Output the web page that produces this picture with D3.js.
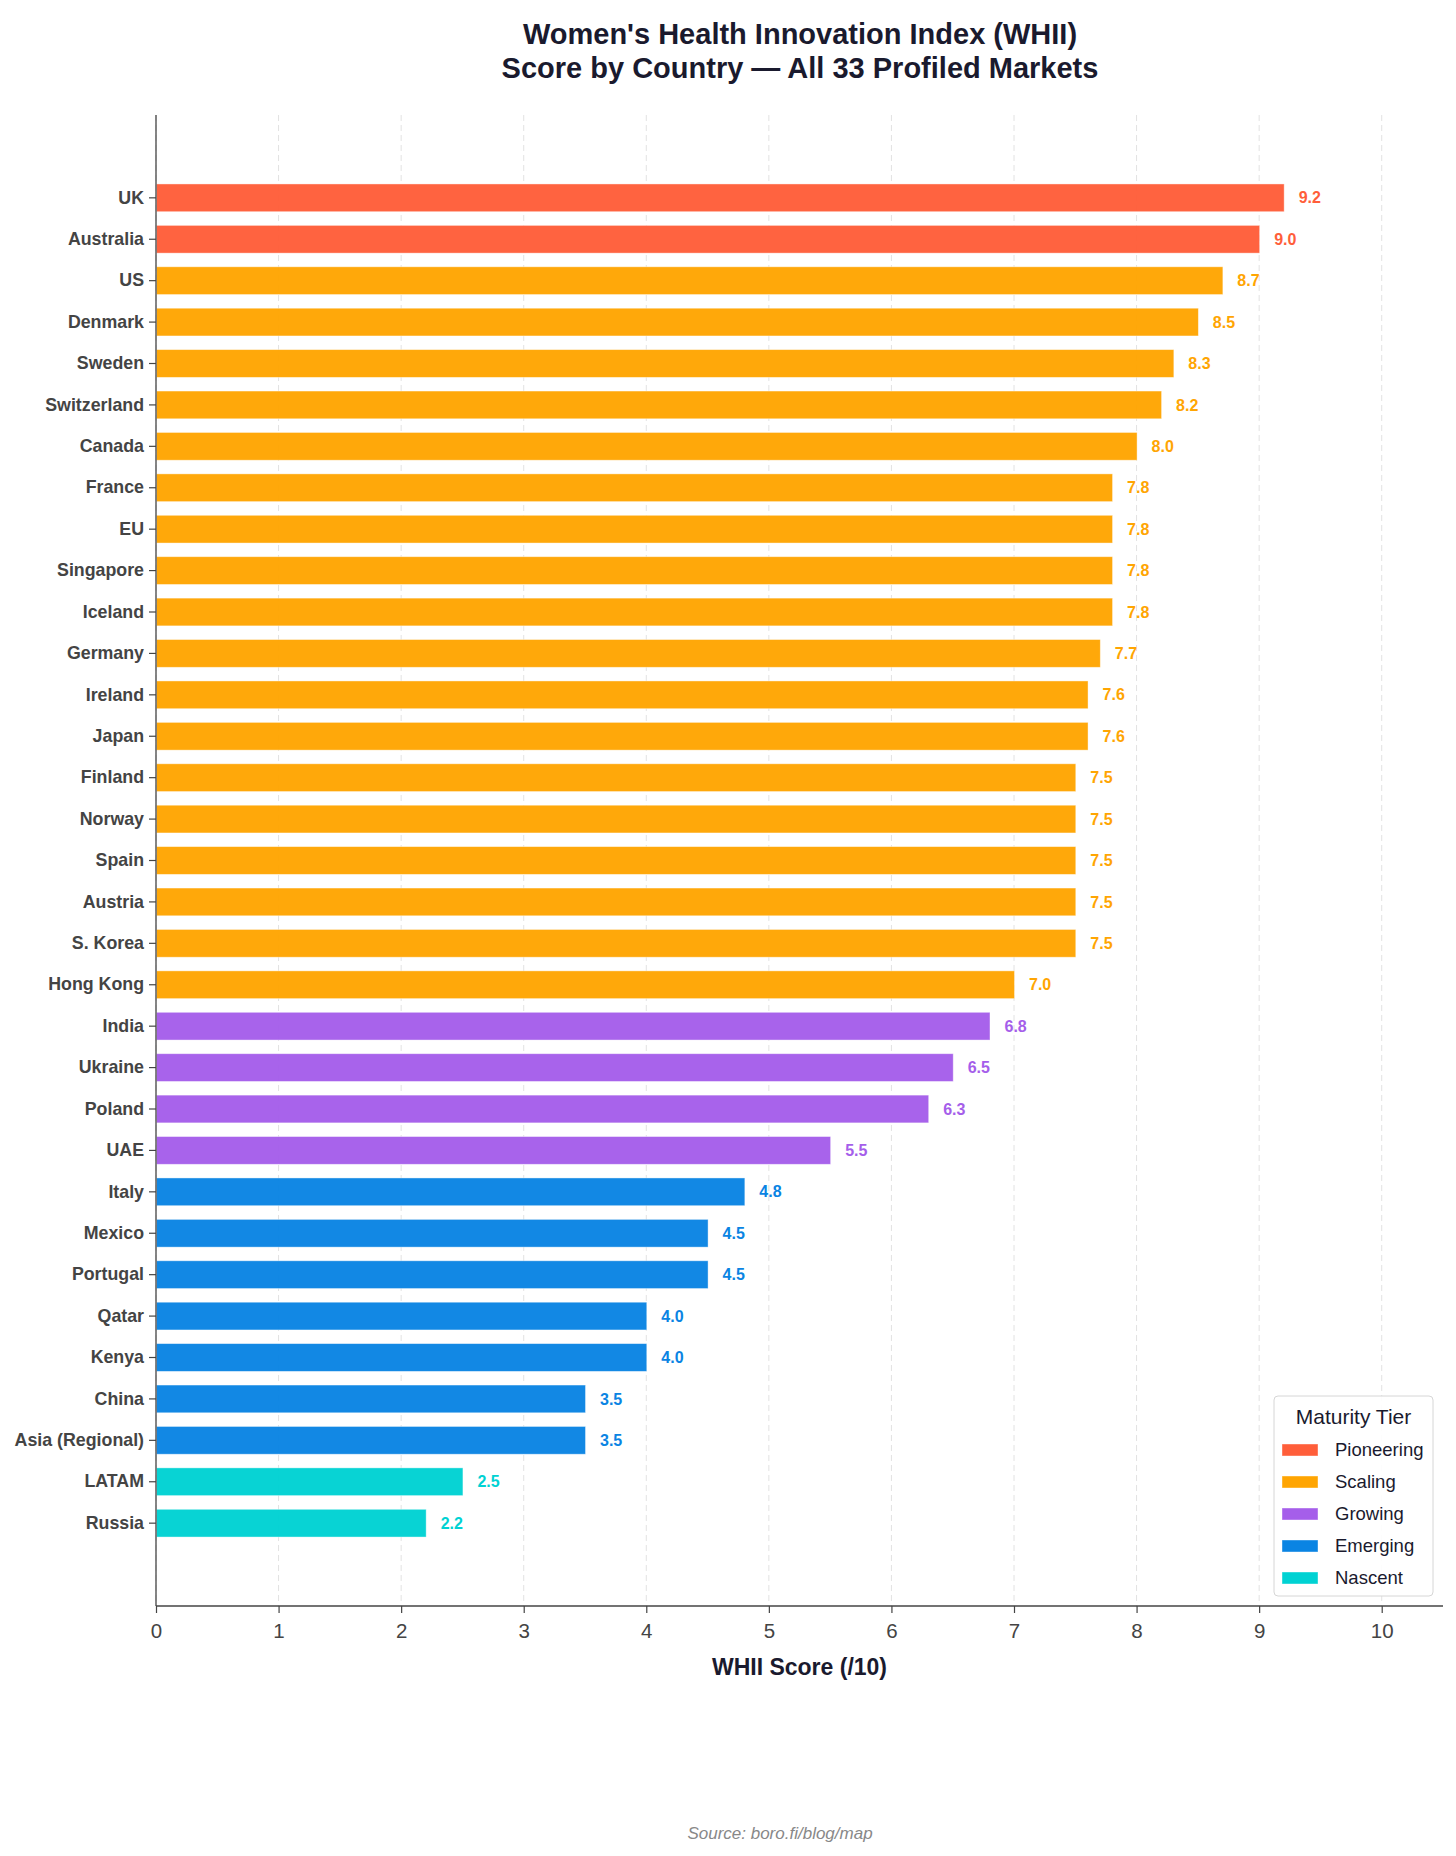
<!DOCTYPE html>
<html>
<head>
<meta charset="utf-8">
<script src="https://cdn.jsdelivr.net/npm/d3@7"></script>
<style>
  body { margin: 0; background: #fff; }
  svg { display: block; font-family: "Liberation Sans", Arial, Helvetica, sans-serif; }
</style>
</head>
<body>
<svg id="chart" width="1456" height="1856"></svg>
<script>
// countries top to bottom, with score and maturity tier
const countries = ["UK", "Australia", "US", "Denmark", "Sweden", "Switzerland", "Canada",
  "France", "EU", "Singapore", "Iceland", "Germany", "Ireland", "Japan", "Finland",
  "Norway", "Spain", "Austria", "S. Korea", "Hong Kong", "India", "Ukraine", "Poland",
  "UAE", "Italy", "Mexico", "Portugal", "Qatar", "Kenya", "China", "Asia (Regional)",
  "LATAM", "Russia"];
const scores = [9.2, 9.0, 8.7, 8.5, 8.3, 8.2, 8.0, 7.8, 7.8, 7.8, 7.8, 7.7, 7.6, 7.6,
  7.5, 7.5, 7.5, 7.5, 7.5, 7.0, 6.8, 6.5, 6.3, 5.5, 4.8, 4.5, 4.5, 4.0, 4.0, 3.5, 3.5,
  2.5, 2.2];
const tiers = ["Pioneering", "Pioneering", "Scaling", "Scaling", "Scaling", "Scaling",
  "Scaling", "Scaling", "Scaling", "Scaling", "Scaling", "Scaling", "Scaling", "Scaling",
  "Scaling", "Scaling", "Scaling", "Scaling", "Scaling", "Scaling", "Growing", "Growing",
  "Growing", "Growing", "Emerging", "Emerging", "Emerging", "Emerging", "Emerging",
  "Emerging", "Emerging", "Nascent", "Nascent"];
const tierNames = ["Pioneering", "Scaling", "Growing", "Emerging", "Nascent"];
const tierColors = ["#FF5E3A", "#FFA502", "#A55EEA", "#0A84E3", "#00D2D3"];
const xTicks = [0, 1, 2, 3, 4, 5, 6, 7, 8, 9, 10];

const data = countries.map((c, i) => ({ country: c, score: scores[i], tier: tiers[i] }));

const margin = { top: 115, left: 156, right: 13, bottom: 250 };
const W = 1456, H = 1856;
const plotBottom = H - margin.bottom;
const plotRight = W - margin.right;

const color = d3.scaleOrdinal().domain(tierNames).range(tierColors);

const x = d3.scaleLinear().domain([0, 10.5]).range([margin.left, plotRight]);
const y = d3.scaleBand()
  .domain(countries)
  .range([margin.top, plotBottom])
  .paddingInner(0.33)
  .paddingOuter(1.665);

const svg = d3.select("#chart");
const ink = "#1a1a2e";
const grey = "#444";

// dashed vertical grid
svg.append("g")
  .selectAll("line")
  .data(xTicks)
  .enter()
  .append("line")
  .attr("x1", (d) => x(d))
  .attr("x2", (d) => x(d))
  .attr("y1", margin.top)
  .attr("y2", plotBottom)
  .attr("stroke", "#e2e2e2")
  .attr("stroke-width", 1)
  .attr("stroke-dasharray", "6,4");

// bars
svg.append("g")
  .selectAll("rect")
  .data(data)
  .enter()
  .append("rect")
  .attr("x", x(0) + 0.5)
  .attr("y", (d) => y(d.country))
  .attr("width", (d) => x(d.score) - x(0))
  .attr("height", y.bandwidth())
  .attr("fill", (d) => color(d.tier))
  .attr("fill-opacity", 0.97)
  .attr("stroke", "#fff")
  .attr("stroke-opacity", 0.5)
  .attr("stroke-width", 0.8);

// value labels
svg.append("g")
  .selectAll("text")
  .data(data)
  .enter()
  .append("text")
  .attr("x", (d) => x(d.score) + 15)
  .attr("y", (d) => y(d.country) + y.bandwidth() / 2)
  .attr("dy", "0.35em")
  .attr("font-size", "16px")
  .attr("font-weight", "bold")
  .attr("fill", (d) => color(d.tier))
  .text((d) => d.score.toFixed(1));

// y axis
const yAxis = svg.append("g")
  .attr("transform", `translate(${margin.left},0)`)
  .call(d3.axisLeft(y).tickSize(7).tickPadding(5));
yAxis.select(".domain").attr("stroke", grey).attr("stroke-width", 1.3)
  .attr("d", `M0,${margin.top}V${plotBottom}`);
yAxis.selectAll(".tick line").attr("stroke", grey).attr("stroke-width", 1.2);
yAxis.selectAll(".tick text")
  .attr("font-size", "17.8px")
  .attr("font-weight", "bold")
  .attr("fill", grey)
  .attr("font-family", "'Liberation Sans', Arial, Helvetica, sans-serif");

// x axis
const xAxis = svg.append("g")
  .attr("transform", `translate(0,${plotBottom})`)
  .call(d3.axisBottom(x).tickValues(xTicks).tickSize(7).tickPadding(10));
xAxis.select(".domain").attr("stroke", grey).attr("stroke-width", 1.3)
  .attr("d", `M${margin.left},0H${plotRight}`);
xAxis.selectAll(".tick line").attr("stroke", grey).attr("stroke-width", 1.2);
xAxis.selectAll(".tick text")
  .attr("font-size", "20.5px")
  .attr("fill", grey)
  .attr("font-family", "'Liberation Sans', Arial, Helvetica, sans-serif");

// axis label
svg.append("text")
  .attr("x", (margin.left + plotRight) / 2)
  .attr("y", 1667)
  .attr("dy", "0.35em")
  .attr("text-anchor", "middle")
  .attr("font-size", "23px")
  .attr("font-weight", "bold")
  .attr("fill", ink)
  .text("WHII Score (/10)");

// title
const title = svg.append("text")
  .attr("text-anchor", "middle")
  .attr("font-size", "29px")
  .attr("font-weight", "bold")
  .attr("fill", ink);
title.append("tspan").attr("x", 800).attr("y", 34).attr("dy", "0.35em")
  .text("Women's Health Innovation Index (WHII)");
title.append("tspan").attr("x", 800).attr("y", 68).attr("dy", "0.35em")
  .text("Score by Country \u2014 All 33 Profiled Markets");

// legend
const legend = svg.append("g").attr("transform", "translate(1274,1396)");
legend.append("rect")
  .attr("width", 159)
  .attr("height", 200)
  .attr("rx", 4)
  .attr("fill", "#fff")
  .attr("fill-opacity", 0.9)
  .attr("stroke", "#d6d6d6")
  .attr("stroke-width", 1);
legend.append("text")
  .attr("x", 79.5)
  .attr("y", 21)
  .attr("dy", "0.35em")
  .attr("text-anchor", "middle")
  .attr("font-size", "21px")
  .attr("fill", ink)
  .text("Maturity Tier");
const entries = legend.selectAll(".entry")
  .data(tierNames)
  .enter()
  .append("g")
  .attr("class", "entry")
  .attr("transform", (d, i) => `translate(0,${54 + i * 32})`);
entries.append("rect")
  .attr("x", 8)
  .attr("y", -6)
  .attr("width", 36)
  .attr("height", 12)
  .attr("fill", (d) => color(d))
  .attr("stroke", "#fff")
  .attr("stroke-opacity", 0.5)
  .attr("stroke-width", 0.8);
entries.append("text")
  .attr("x", 61)
  .attr("dy", "0.35em")
  .attr("font-size", "18.5px")
  .attr("fill", ink)
  .text((d) => d);

// source
svg.append("text")
  .attr("x", 780)
  .attr("y", 1833)
  .attr("dy", "0.35em")
  .attr("text-anchor", "middle")
  .attr("font-size", "17px")
  .attr("font-style", "italic")
  .attr("fill", "#888")
  .text("Source: boro.fi/blog/map");
</script>
</body>
</html>
